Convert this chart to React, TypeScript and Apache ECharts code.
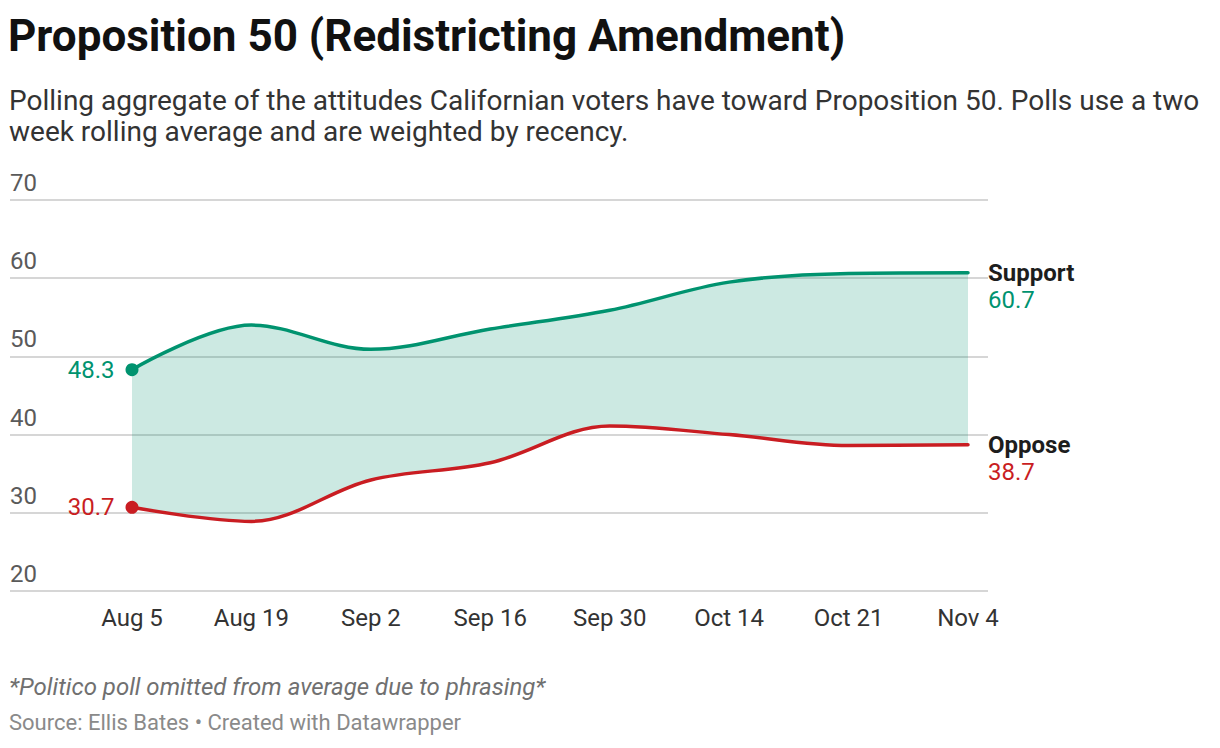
import React, { useEffect, useRef } from "react";
import * as echarts from "echarts";

const categories = ["Aug 5", "Aug 19", "Sep 2", "Sep 16", "Sep 30", "Oct 14", "Oct 21", "Nov 4"];
const support = [48.3, 54.0, 50.9, 53.5, 55.9, 59.5, 60.6, 60.7];
const oppose = [30.7, 28.9, 34.2, 36.4, 41.1, 40.0, 38.6, 38.7];
const yTicks = [20, 30, 40, 50, 60, 70];

const GREEN = "#00936f";
const RED = "#c91d22";
const FONT = "Roboto, 'Noto Sans', sans-serif";

export default function App() {
  const ref = useRef<HTMLDivElement>(null);
  useEffect(() => {
    document.body.style.margin = "0";
    const chart = echarts.init(ref.current!, null, { renderer: "svg" });
    const band = support.map((v, i) => +(v - oppose[i]).toFixed(2));
    const last = categories.length - 1;
    const smooth = 0.35;

    const lineData = (vals: number[], name: string, color: string) =>
      vals.map((v, i) => {
        if (i === 0) {
          return {
            value: v,
            symbolSize: 13,
            label: {
              show: true,
              position: "left",
              distance: 11,
              formatter: v.toFixed(1),
              color,
              fontSize: 24,
              fontFamily: FONT,
            },
          };
        }
        if (i === last) {
          return {
            value: v,
            symbolSize: 0,
            label: {
              show: true,
              position: "right",
              distance: 20,
              offset: [0, 14],
              formatter: `{n|${name}}\n{v|${v.toFixed(1)}}`,
              rich: {
                n: { fontSize: 24, fontWeight: "bold", color: "#1d1d1d", fontFamily: FONT, lineHeight: 26 },
                v: { fontSize: 24, color, fontFamily: FONT, lineHeight: 27 },
              },
            },
          };
        }
        return { value: v, symbolSize: 0 };
      });

    chart.setOption({
      animation: false,
      textStyle: { fontFamily: FONT },
      title: [
        {
          text: "Proposition 50 (Redistricting Amendment)",
          left: 8,
          top: 11,
          padding: 0,
          textStyle: { fontSize: 44, fontWeight: "bold", color: "#111", fontFamily: FONT, lineHeight: 50 },
        },
        {
          text:
            "Polling aggregate of the attitudes Californian voters have toward Proposition 50. Polls use a two\nweek rolling average and are weighted by recency.",
          left: 9,
          top: 85,
          padding: 0,
          textStyle: { fontSize: 28, fontWeight: "normal", color: "#333", fontFamily: FONT, lineHeight: 31 },
        },
        {
          text: "*Politico poll omitted from average due to phrasing*",
          left: 9,
          top: 673,
          padding: 0,
          textStyle: { fontSize: 24, fontWeight: "normal", fontStyle: "italic", color: "#707070", fontFamily: FONT, lineHeight: 28 },
        },
        {
          text: "Source: Ellis Bates • Created with Datawrapper",
          left: 9,
          top: 709,
          padding: 0,
          textStyle: { fontSize: 22, fontWeight: "normal", color: "#8a8a8a", fontFamily: FONT, lineHeight: 26 },
        },
      ],
      grid: [
        { left: 10, right: 232, top: 200, bottom: 157 },
        { left: 132, right: 252, top: 200, bottom: 157 },
      ],
      xAxis: [
        { type: "value", gridIndex: 0, min: 0, max: 1, show: false },
        {
          type: "category",
          gridIndex: 1,
          data: categories,
          boundaryGap: false,
          axisLine: { show: false },
          axisTick: { show: false },
          axisLabel: { color: "#333", fontSize: 24, margin: 15, fontFamily: FONT, interval: 0 },
        },
      ],
      yAxis: [
        {
          type: "value",
          gridIndex: 0,
          min: yTicks[0],
          max: yTicks[yTicks.length - 1],
          interval: 10,
          axisLine: { show: false },
          axisTick: { show: false },
          splitLine: { lineStyle: { color: "#d6d6d6", width: 2 } },
          axisLabel: {
            inside: true,
            margin: 0,
            color: "#5a5a5a",
            fontSize: 24,
            fontFamily: FONT,
            verticalAlign: "bottom",
            padding: [0, 0, 5, 0],
          },
        },
        { type: "value", gridIndex: 1, min: 20, max: 70, show: false },
      ],
      series: [
        {
          type: "line",
          xAxisIndex: 1,
          yAxisIndex: 1,
          stack: "band",
          data: oppose,
          smooth,
          symbol: "none",
          lineStyle: { opacity: 0 },
          silent: true,
        },
        {
          type: "line",
          xAxisIndex: 1,
          yAxisIndex: 1,
          stack: "band",
          data: band,
          smooth,
          symbol: "none",
          lineStyle: { opacity: 0 },
          areaStyle: { color: "rgba(0,147,111,0.2)", opacity: 1 },
          silent: true,
        },
        {
          type: "line",
          name: "Support",
          xAxisIndex: 1,
          yAxisIndex: 1,
          data: lineData(support, "Support", GREEN),
          smooth,
          symbol: "circle",
          showSymbol: true,
          itemStyle: { color: GREEN },
          lineStyle: { color: GREEN, width: 3.5, cap: "round" },
          z: 5,
        },
        {
          type: "line",
          name: "Oppose",
          xAxisIndex: 1,
          yAxisIndex: 1,
          data: lineData(oppose, "Oppose", RED),
          smooth,
          symbol: "circle",
          showSymbol: true,
          itemStyle: { color: RED },
          lineStyle: { color: RED, width: 3.5, cap: "round" },
          z: 5,
        },
      ],
    });
    return () => chart.dispose();
  }, []);
  return <div ref={ref} style={{ width: 1220, height: 748 }} />;
}
